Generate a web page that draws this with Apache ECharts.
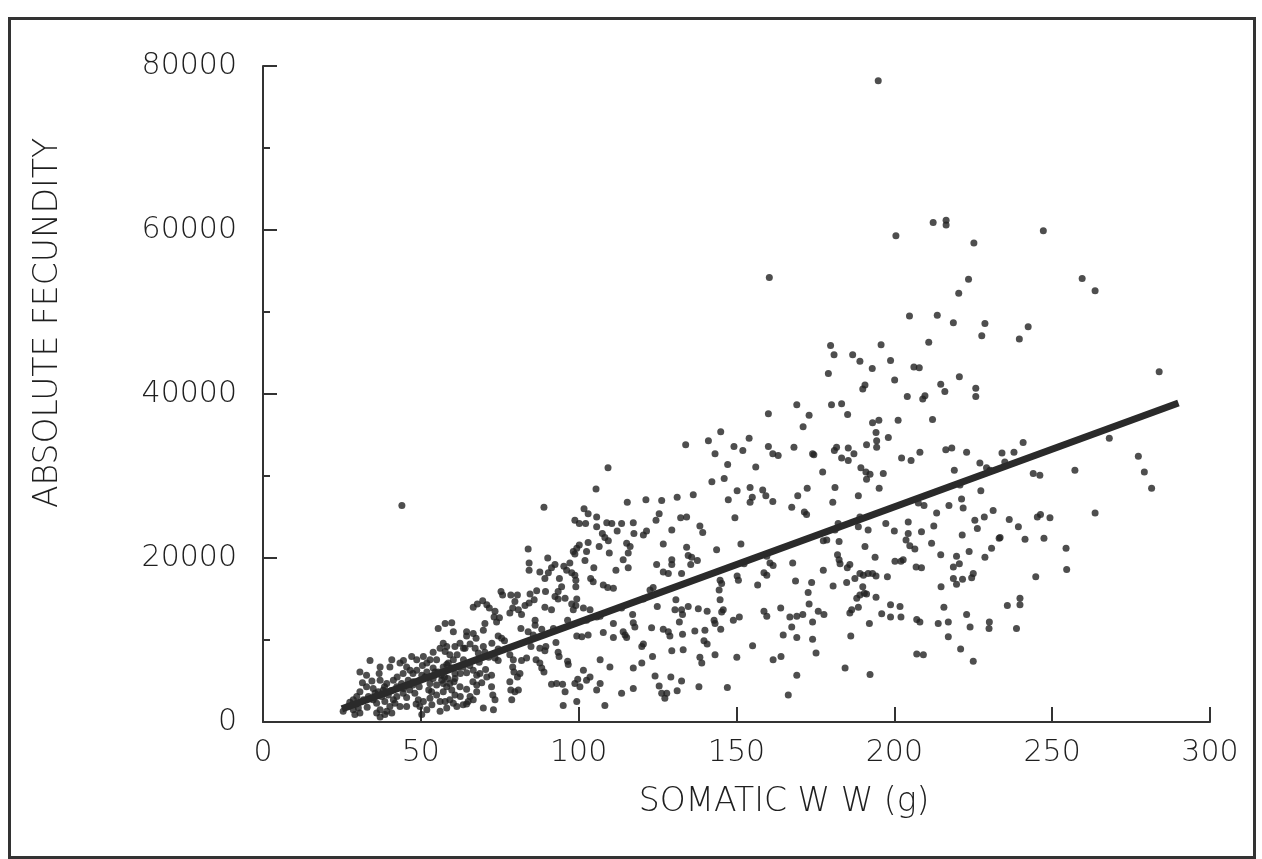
<!DOCTYPE html>
<html><head><meta charset="utf-8">
<script src="https://cdn.jsdelivr.net/npm/echarts@6.0.0/dist/echarts.min.js"></script>
<style>html,body{margin:0;padding:0;background:#fff}#c{width:1262px;height:859px}</style>
</head><body><div id="c"></div>
<script>
const xAxisTitle = 'SOMATIC W W (g)';
const yAxisTitle = 'ABSOLUTE FECUNDITY';
const xTickValues = [0, 50, 100, 150, 200, 250, 300];
const yTickValues = [0, 20000, 40000, 60000, 80000];
// regression line end points [somatic ww, fecundity]
const fitX = [25, 290];
const fitY = [1600, 38900];
// observed fish: [somatic wet weight (g), absolute fecundity]
const points = [
[169.1,38700],[160.1,37600],[173.0,37400],[171.1,36000],[145.0,35400],[141.1,34300],[154.0,34600],[133.9,33800],[149.2,33600],[152.0,33100],[160.1,33600],[161.5,32700],[163.2,32500],[168.2,33500],[174.5,32600],[143.2,32700],[147.2,31400],[156.1,31100],[146.1,29700],[142.2,29300],[150.2,28200],[154.3,28600],[158.3,28300],[159.3,27600],[155.0,27400],[154.3,26800],[147.4,27100],[161.5,26900],[172.4,28500],[169.4,27600],[167.5,26200],[171.5,25600],[172.2,25300],[149.5,24900],[136.3,27700],[131.2,27400],[126.3,27000],[121.3,27100],[115.4,26800],[125.5,25400],[124.5,24600],[132.3,24900],[134.2,25000],[129.5,23400],[138.4,23900],[139.3,23100],[117.3,24300],[113.6,24200],[117.5,23000],[120.5,22800],[121.5,23300],[115.2,21800],[116.3,21400],[115.7,20600],[114.1,19800],[115.7,18800],[126.8,21700],[134.2,21300],[134.7,20300],[135.8,20100],[137.6,19700],[129.5,19800],[129.5,19200],[124.7,19200],[135.5,19200],[126.8,18300],[128.4,18100],[132.6,18100],[143.7,21000],[151.4,21700],[152.4,19300],[159.6,20200],[160.6,19400],[161.6,19100],[167.8,19400],[158.7,18200],[159.6,17900],[150.2,17800],[150.6,17300],[144.8,17300],[145.3,16900],[156.7,16700],[168.7,17200],[173.8,17000],[172.7,15800],[123.6,16400],[122.6,16100],[120.5,15000],[113.6,13900],[117.1,13100],[117.3,12100],[117.8,11600],[114.1,11000],[115.2,10300],[124.9,14100],[130.8,14900],[130.5,13700],[132.6,13700],[132.9,13100],[131.9,12200],[134.7,14100],[137.9,13800],[140.7,13500],[144.5,16100],[144.8,14900],[145.8,13700],[145.3,13400],[142.9,12400],[143.2,12000],[145.0,11300],[149.0,12400],[150.9,12800],[123.1,11500],[126.8,11300],[128.4,11000],[128.9,10500],[132.9,10700],[136.8,11100],[140.0,11200],[139.7,9900],[140.7,9500],[133.1,8800],[129.5,8700],[120.5,9500],[120.0,9200],[114.7,10600],[123.4,8000],[120.0,7200],[117.3,6600],[138.4,7900],[139.0,7200],[143.2,8200],[150.1,7900],[155.1,9300],[158.7,13500],[159.6,12900],[164.0,13900],[166.9,12800],[169.1,12900],[171.0,13100],[167.5,11600],[164.8,10600],[169.1,10300],[174.1,12200],[174.1,10100],[175.2,8400],[161.6,7600],[164.1,8000],[169.1,5700],[124.2,5600],[129.2,5500],[132.6,5000],[125.5,4400],[126.3,3500],[127.9,3500],[127.3,2900],[131.2,3800],[138.1,4300],[147.1,4200],[117.3,4100],[113.6,3500],[166.4,3300],
[218.7,48700],[228.7,48600],[227.7,47100],[179.8,45900],[180.9,44800],[195.8,46000],[210.9,46300],[186.8,44800],[189.1,44000],[198.8,44100],[206.2,43300],[207.9,43200],[179.1,42500],[193.0,43100],[200.1,41700],[190.7,41100],[190.0,40600],[220.6,42100],[214.7,41200],[216.0,40300],[225.8,40700],[225.8,39700],[204.1,39700],[209.7,39800],[209.0,39400],[180.1,38700],[183.3,38800],[185.2,37500],[193.1,36500],[195.1,36800],[201.2,36800],[212.1,36900],[194.2,35300],[194.4,34300],[194.4,33500],[198.1,34700],[191.2,33800],[181.7,33500],[181.0,33100],[185.4,33400],[187.2,32700],[183.3,32200],[185.4,31900],[174.1,32700],[216.3,33200],[218.2,33400],[222.9,32900],[202.3,32200],[205.3,31900],[208.1,32900],[227.1,31600],[189.4,31000],[191.0,30500],[192.3,30200],[191.2,29600],[196.5,30300],[177.3,30500],[219.0,30700],[195.2,28500],[181.2,28600],[188.6,27600],[221.3,27200],[220.8,28900],[227.4,28200],[180.5,26800],[207.6,26700],[209.4,26400],[217.3,26400],[221.8,26100],[213.4,25500],[231.3,25800],[228.5,25000],[225.5,24600],[226.3,23600],[189.1,25000],[188.6,23800],[182.2,24200],[181.2,23400],[191.7,23400],[197.3,24200],[200.0,23300],[204.4,24400],[204.4,23000],[208.6,23200],[212.5,23900],[177.5,22100],[178.6,22200],[182.5,22000],[203.7,22200],[204.9,21500],[206.5,21100],[211.8,21800],[221.5,22800],[233.2,22400],[190.7,21400],[182.0,20400],[182.5,19800],[182.8,19300],[193.9,20100],[200.2,19600],[202.1,19600],[202.8,19800],[214.7,20400],[219.7,20200],[223.7,20800],[228.7,20100],[230.8,21200],[185.9,19200],[185.1,18800],[177.5,18500],[206.9,18900],[208.6,18800],[218.7,18900],[220.6,19300],[189.1,18100],[190.2,17900],[191.7,18100],[193.1,18100],[194.2,17800],[187.5,17500],[197.8,17700],[225.0,18100],[224.5,17600],[218.7,17500],[219.7,16800],[221.6,17400],[180.6,16600],[184.9,17000],[190.0,16500],[190.5,15700],[191.2,15600],[189.1,15500],[188.1,15100],[214.8,16500],[173.0,14400],[175.9,13500],[177.7,13100],[185.9,13300],[186.5,13700],[188.6,14000],[194.2,15200],[198.8,14300],[201.8,14100],[196.0,13200],[198.8,12800],[202.1,12800],[215.7,14000],[207.1,12500],[208.1,12200],[213.9,12000],[217.1,12200],[222.9,13100],[224.0,11600],[230.1,12200],[230.0,11400],[186.2,10500],[192.1,12000],[217.1,10400],[221.0,8900],[207.1,8300],[209.2,8200],[225.0,7400],[184.4,6600],[192.3,5800],
[239.6,46700],[242.4,48200],[283.9,42700],[240.8,34100],[234.1,32800],[237.9,32900],[235.0,31700],[229.2,31000],[230.3,30700],[268.1,34600],[277.3,32400],[279.2,30500],[281.5,28500],[257.2,30700],[244.0,30300],[246.1,30100],[263.6,25500],[236.4,24700],[239.3,23800],[245.3,25000],[246.3,25300],[249.3,24900],[233.5,22500],[241.4,22300],[247.4,22400],[254.4,21200],[254.6,18600],[244.8,17700],[235.8,14200],[239.8,15100],[239.8,14300],[238.7,11400],
[194.9,78200],[160.4,54200],[200.5,59300],[212.3,60900],[216.4,61200],[216.4,60600],[247.2,59900],[225.2,58400],[223.5,54000],[259.5,54100],[263.6,52600],[220.4,52300],[204.8,49500],[213.6,49600],
[109.3,31000],[105.5,28400],[89.0,26200],[101.7,26000],[44.0,26400],
[103.0,25400],[105.7,25000],[98.8,24600],[100.2,24200],[102.2,24200],[108.9,24300],[110.5,24200],[105.7,23800],[112.2,23300],[107.5,23000],[108.3,22500],[109.4,22100],[103.0,21900],[100.2,21600],[99.4,21200],[98.3,20800],[106.5,21400],[102.5,20800],[109.7,20600],[98.8,20500],[84.0,21100],[102.0,19700],[90.2,20000],[97.2,19400],[84.3,19400],[84.3,18500],[92.5,19200],[91.4,18800],[90.4,18200],[89.3,17500],[95.3,19000],[96.2,18500],[97.8,18200],[104.8,18800],[111.8,18500],[87.7,18300],[98.8,17900],[99.1,17300],[99.1,16500],[93.9,17500],[103.8,17500],[104.6,17100],[94.6,16500],[93.5,15900],[107.8,16700],[109.2,16400],[111.0,16300],[75.4,15900],[75.9,15500],[78.5,15500],[80.6,15500],[84.6,15600],[86.7,16000],[89.5,15900],[92.5,15300],[93.5,15000],[79.8,14700],[83.0,14200],[84.3,14500],[85.9,14900],[89.3,14000],[91.4,13700],[95.7,15100],[99.4,15000],[99.1,14200],[98.3,13700],[97.8,14400],[101.5,13900],[103.6,13700],[96.5,12400],[102.5,12400],[105.7,12800],[106.8,12900],[111.0,12000],[66.6,14000],[67.9,14400],[69.6,14800],[70.9,14300],[71.7,13900],[73.5,13500],[73.2,12800],[74.9,12700],[74.0,12200],[78.2,13300],[80.9,13700],[81.9,13100],[79.1,13900],[70.3,12000],[81.7,11400],[84.0,11000],[86.2,11800],[86.2,12400],[85.6,10600],[88.3,11300],[92.0,11400],[57.7,12000],[59.8,12100],[60.3,11000],[64.5,11000],[64.5,10500],[66.6,10800],[69.8,11200],[74.5,10500],[75.6,10200],[99.4,10500],[101.0,10400],[103.0,10600],[107.8,10900],[111.0,10300],[92.8,9700],[84.9,9200],[87.7,9000],[89.6,9200],[89.3,8700],[93.5,8500],[93.8,8000],[57.1,9600],[58.2,9200],[57.7,8600],[59.2,8200],[60.8,9200],[62.4,9600],[64.0,9000],[65.6,9500],[67.2,9000],[68.2,8400],[69.8,9200],[70.3,8500],[73.5,7800],[74.5,7500],[78.2,8200],[79.3,7600],[81.9,7500],[83.5,7800],[86.5,7600],[87.7,7200],[96.5,7400],[96.7,7000],[101.5,6300],[106.8,7600],[109.9,6700],[58.2,7000],[59.8,6600],[60.8,5900],[63.4,6700],[64.5,6000],[66.6,6300],[67.7,5700],[68.7,5900],[70.9,5500],[72.4,5700],[79.1,6700],[79.5,6100],[81.4,5900],[80.6,5500],[88.3,6600],[89.0,6100],[91.4,4600],[93.0,4700],[94.9,4600],[95.7,3700],[98.8,4700],[99.7,5200],[100.4,4300],[102.5,5100],[103.6,5500],[106.8,4700],[105.7,3900],[57.1,4700],[58.2,4300],[59.8,3900],[60.8,3300],[62.4,4300],[64.5,4000],[65.6,3100],[67.7,4500],[67.7,3700],[69.3,4800],[72.4,4300],[72.8,3300],[73.5,2700],[78.2,4900],[78.5,3900],[78.8,2700],[79.8,3700],[80.9,3900],[56.1,2500],[57.7,2500],[59.2,2700],[63.4,2100],[65.0,2500],[66.6,2700],[69.8,1700],[73.0,1500],[95.1,2000],[99.4,2500],[108.3,2000],[58.2,1700],
[55.5,11400],[56.1,9000],[33.9,7500],[30.7,6100],[32.8,5700],[37.1,6700],[36.8,5900],[40.8,7600],[40.2,6700],[43.4,7200],[45.5,6700],[44.4,5900],[47.1,8000],[48.7,7600],[50.8,8000],[51.9,7200],[52.9,7600],[53.9,8500],[55.0,7600],[46.6,6300],[48.7,6300],[50.3,5700],[51.9,6100],[53.9,6600],[55.5,6100],[57.1,6700],[58.7,7200],[60.3,7600],[61.9,6700],[37.1,5100],[39.2,4700],[41.3,5100],[42.4,4300],[43.9,4700],[46.0,5100],[47.6,4900],[49.7,5100],[51.3,5500],[52.9,4700],[53.9,5300],[55.0,4500],[56.6,5100],[59.2,4700],[60.8,5300],[34.9,4100],[36.5,3700],[38.1,3900],[39.7,3300],[32.8,4300],[30.7,3700],[29.7,3100],[28.6,2700],[31.8,2700],[33.4,3100],[34.9,2700],[36.0,2300],[37.6,3100],[38.6,2500],[40.2,1900],[39.2,1300],[37.1,1500],[41.3,2700],[42.4,3100],[27.0,1900],[28.6,1500],[25.4,1300],[30.2,1700],[30.7,1100],[29.1,900],[44.4,3500],[36.0,1100],[37.1,600],[38.6,900],[40.8,1100],[41.8,2300],[43.4,1900],[45.5,1900],[49.7,1900],[51.9,1500],[49.2,2700],[50.8,2500],[52.9,2900],[53.4,3700],[55.0,3300],[57.1,3700],[56.1,1300],[48.1,3500],[50.3,900],[60.3,2300],[61.4,1900],
[35.5,3500],[38.5,4300],[40.5,3800],[42.5,5500],[44.5,4100],[46.5,3900],[47.5,5900],[49.5,4300],[50.5,6900],[52.5,3900],[54.5,6100],[56.5,5700],[58.5,5300],[60.5,4900],[62.5,5900],[63.5,7600],[65.5,6900],[66.5,4900],[68.5,7300],[70.5,6400],[71.5,7900],[72.5,9600],[74.5,8900],[76.5,9900],[45.5,3000],[48.5,2200],[53.5,2100],[62.5,3100],[64.5,2200],[34.5,5000],[31.5,4800],[29.5,2200],[27.5,2400],[33.0,1800],[44.5,7500],[47.5,4500],[57.5,5500],[61.5,8200],[63.5,9000],[67.5,10200]
];

const INK = '#333';
const TXT = '#1f1f1f';
const FONT = 'DejaVu Sans';
const chart = echarts.init(document.getElementById('c'), null, {renderer: 'canvas'});
chart.setOption({
  animation: false,
  backgroundColor: '#ffffff',
  grid: {left: 263, right: 52, top: 66, bottom: 137, containLabel: false},
  xAxis: {
    type: 'value', min: xTickValues[0], max: xTickValues[xTickValues.length - 1],
    interval: xTickValues[1] - xTickValues[0],
    axisLine: {show: true, onZero: false, lineStyle: {color: INK, width: 2}},
    axisTick: {show: true, inside: true, length: 15, lineStyle: {color: INK, width: 2}},
    axisLabel: {color: TXT, fontFamily: FONT, fontWeight: 200, fontSize: 30, margin: 16,
                formatter: v => String(v)},
    splitLine: {show: false}
  },
  yAxis: {
    type: 'value', min: yTickValues[0], max: yTickValues[yTickValues.length - 1],
    interval: yTickValues[1] - yTickValues[0],
    axisLine: {show: true, onZero: false, lineStyle: {color: INK, width: 2}},
    axisTick: {show: true, inside: true, length: 14, lineStyle: {color: INK, width: 2}},
    minorTick: {show: true, splitNumber: 2, length: 7, lineStyle: {color: INK, width: 2}},
    axisLabel: {color: TXT, fontFamily: FONT, fontWeight: 200, fontSize: 30, margin: 26,
                formatter: v => String(v)},
    splitLine: {show: false}
  },
  series: [
    {type: 'scatter', data: points, symbol: 'circle', symbolSize: 7,
     itemStyle: {color: '#222'}, silent: true, z: 2},
    {type: 'line', data: fitX.map((x, i) => [x, fitY[i]]), symbol: 'none',
     lineStyle: {color: '#2a2a2a', width: 7}, silent: true, z: 3}
  ],
  graphic: [
    {type: 'rect', left: 7, top: 16, shape: {width: 1245, height: 839},
     style: {fill: 'none', stroke: INK, lineWidth: 3}, silent: true},
    {type: 'text', x: 784, y: 802,
     style: {text: xAxisTitle, fill: TXT, font: '200 33px "DejaVu Sans"', align: 'center', verticalAlign: 'middle'}},
    {type: 'text', x: 48, y: 323, rotation: Math.PI / 2,
     style: {text: yAxisTitle, fill: TXT, font: '200 33px "DejaVu Sans"', align: 'center', verticalAlign: 'middle'}}
  ]
});
</script>
</body></html>
